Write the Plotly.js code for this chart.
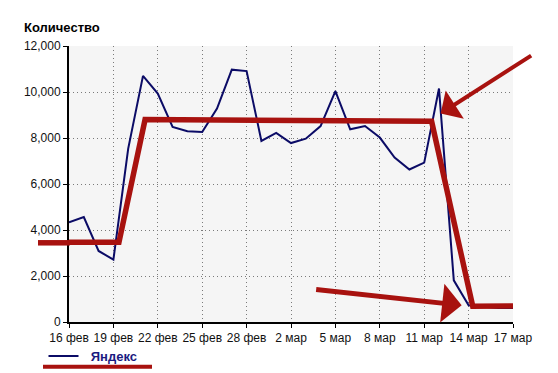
<!DOCTYPE html>
<html>
<head>
<meta charset="utf-8">
<script src="https://cdn.plot.ly/plotly-3.0.1.min.js"></script>
<style>html,body{margin:0;padding:0;background:#fff;}#chart{width:558px;height:373px;}</style>
</head>
<body>
<div id="chart"></div>
<script>
// ---- data ----
const dates = [
  '2024-02-16','2024-02-17','2024-02-18','2024-02-19','2024-02-20','2024-02-21','2024-02-22',
  '2024-02-23','2024-02-24','2024-02-25','2024-02-26','2024-02-27','2024-02-28','2024-02-29',
  '2024-03-01','2024-03-02','2024-03-03','2024-03-04','2024-03-05','2024-03-06','2024-03-07',
  '2024-03-08','2024-03-09','2024-03-10','2024-03-11','2024-03-12','2024-03-13','2024-03-14',
  '2024-03-15','2024-03-16','2024-03-17'
];
const yandex = [
  4330, 4560, 3090, 2710, 7540, 10700, 9930,
  8480, 8290, 8260, 9280, 10970, 10910, 7870,
  8220, 7780, 7970, 8520, 10040, 8380, 8520,
  8020, 7150, 6630, 6930, 10150, 1810, 730,
  660, 610, 610
];
// hand-drawn red trend overlay
const trendDates = ['2024-02-16 00:00','2024-02-19 09:00','2024-02-21 03:20','2024-03-11 12:00','2024-03-14 06:40','2024-03-17 00:00'];
const trendValues = [3465, 3465, 8800, 8726, 690, 700];
// arrow heads (data coordinates)
const arrowDates = ['2024-03-12 02:40','2024-03-13 12:45'];
const arrowValues = [9061, 726];

const tickDates = ['2024-02-16','2024-02-19','2024-02-22','2024-02-25','2024-02-28','2024-03-02',
                   '2024-03-05','2024-03-08','2024-03-11','2024-03-14','2024-03-17'];
const tickLabels = ['16 фев','19 фев','22 фев','25 фев','28 фев','2 мар','5 мар','8 мар','11 мар','14 мар','17 мар'];
const yTicks = [0, 2000, 4000, 6000, 8000, 10000, 12000];

const RED = '#a8120f';
const FONT = 'Liberation Sans, Arial, sans-serif';

const traces = [
  {
    x: dates, y: yandex, type: 'scatter', mode: 'lines', name: '\u00a0\u00a0Яндекс',
    line: {color: '#0b0b66', width: 2}, hoverinfo: 'skip'
  },
  {
    x: trendDates, y: trendValues, type: 'scatter', mode: 'lines', showlegend: false,
    line: {color: RED, width: 5.5}, hoverinfo: 'skip'
  }
];

const layout = {
  width: 558, height: 373,
  margin: {l: 69, r: 45, t: 46, b: 51, pad: 0},
  paper_bgcolor: '#ffffff',
  plot_bgcolor: '#f5f5f5',
  font: {family: FONT, size: 12, color: '#111'},
  title: {
    text: '<b>Количество</b>', x: 24/558, xref: 'container', xanchor: 'left',
    y: 1 - 27/373, yref: 'container', yanchor: 'middle',
    font: {family: FONT, size: 13, color: '#000'}
  },
  showlegend: true,
  legend: {
    orientation: 'h', xref: 'container', yref: 'container',
    x: 43.5/558, xanchor: 'left', y: 1 - 356/373, yanchor: 'middle',
    bgcolor: 'rgba(0,0,0,0)',
    font: {family: FONT, size: 13, color: '#1a1a80', weight: 'bold'}
  },
  xaxis: {
    type: 'date', range: ['2024-02-16', '2024-03-17'],
    tickmode: 'array', tickvals: tickDates, ticktext: tickLabels,
    ticks: 'outside', ticklen: 4, tickwidth: 1, tickcolor: '#000',
    showline: true, linecolor: '#000', linewidth: 2,
    showgrid: true, gridcolor: '#7a7a7a', gridwidth: 1, griddash: '1px,3px',
    zeroline: false, fixedrange: true,
    tickfont: {family: FONT, size: 12, color: '#111'}
  },
  yaxis: {
    range: [0, 12000], tickmode: 'array', tickvals: yTicks, tickformat: ',d',
    ticks: 'outside', ticklen: 4, tickwidth: 1, tickcolor: '#000',
    showline: true, linecolor: '#000', linewidth: 2,
    showgrid: true, gridcolor: '#7a7a7a', gridwidth: 1, griddash: '1px,3px',
    zeroline: false, fixedrange: true,
    tickfont: {family: FONT, size: 12, color: '#111'}
  },
  shapes: [
    // left extension of red trend over the axis
    {type: 'line', xref: 'paper', yref: 'paper', x0: (38-69)/444, x1: 0.002,
     y0: (321.7-242.5)/276, y1: (321.7-242.5)/276, line: {color: RED, width: 5.5}},
    // red underline below legend
    {type: 'line', xref: 'paper', yref: 'paper', x0: (43-69)/444, x1: (152-69)/444,
     y0: (321.7-366.5)/276, y1: (321.7-366.5)/276, line: {color: RED, width: 4}}
  ],
  annotations: [
    {x: arrowDates[0], y: arrowValues[0], xref: 'x', yref: 'y', text: '', showarrow: true,
     ax: 92, ay: -59, arrowcolor: RED, arrowwidth: 4, arrowhead: 1, arrowsize: 1.4, standoff: 0},
    {x: arrowDates[1], y: arrowValues[1], xref: 'x', yref: 'y', text: '', showarrow: true,
     ax: -147, ay: -16, arrowcolor: RED, arrowwidth: 5, arrowhead: 1, arrowsize: 1.3, standoff: 0}
  ]
};

Plotly.newPlot('chart', traces, layout, {staticPlot: true, displayModeBar: false});
</script>
</body>
</html>
